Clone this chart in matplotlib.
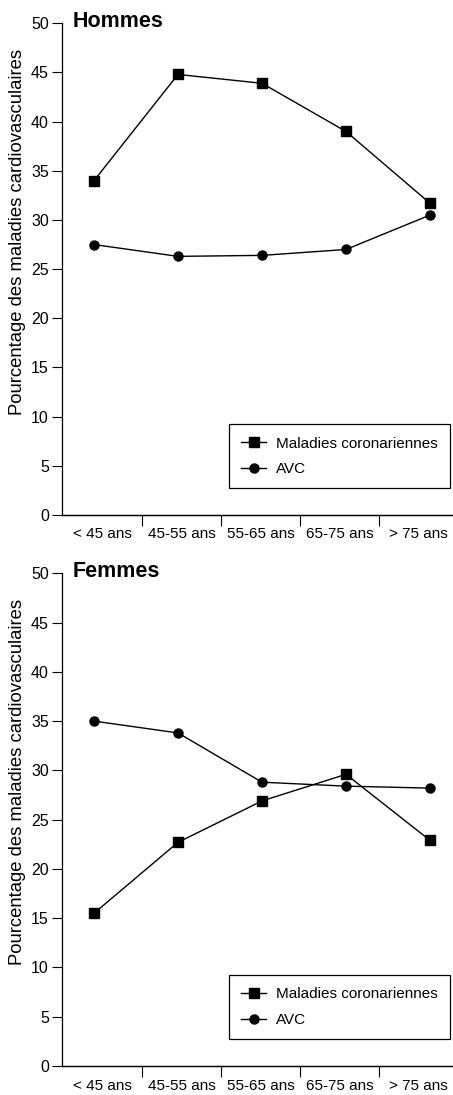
import matplotlib
matplotlib.use('Agg')
import matplotlib.pyplot as plt

# ---- data ----
categories = ['< 45 ans', '45-55 ans', '55-65 ans', '65-75 ans', '> 75 ans']
hommes_coronariennes = [34.0, 44.8, 43.9, 39.0, 31.7]
hommes_avc = [27.5, 26.3, 26.4, 27.0, 30.5]
femmes_coronariennes = [15.5, 22.7, 26.9, 29.6, 22.9]
femmes_avc = [35.0, 33.8, 28.8, 28.4, 28.2]
y_ticks = [0, 5, 10, 15, 20, 25, 30, 35, 40, 45, 50]
panel_titles = ['Hommes', 'Femmes']
series_labels = ['Maladies coronariennes', 'AVC']
y_label = 'Pourcentage des maladies cardiovasculaires'

plt.rcParams['font.family'] = ['Liberation Sans', 'DejaVu Sans']

W, H = 453, 1095
fig = plt.figure(figsize=(W / 100, H / 100), dpi=100)


def rect(l, t, r, b):
    return [l / W, 1 - b / H, (r - l) / W, (b - t) / H]


panels = [
    (panel_titles[0], hommes_coronariennes, hommes_avc, rect(62, 23.3, 453, 515)),
    (panel_titles[1], femmes_coronariennes, femmes_avc, rect(62, 573.3, 453, 1066)),
]

x = list(range(len(categories)))


def fwd(p):
    return (84 * p - 8.5) / 79


def inv(s):
    return (79 * s + 8.5) / 84


for title, cor, avc, r in panels:
    ax = fig.add_axes(r)
    ax.plot(x, cor, color='black', lw=1.0, marker='s', ms=7, label=series_labels[0],
            clip_on=False)
    ax.plot(x, avc, color='black', lw=1.0, marker='o', ms=6.5, label=series_labels[1],
            clip_on=False)
    ax.set_xlim(-0.381, 4.274)
    ax.set_ylim(0, 50)
    ax.set_yticks(y_ticks)
    ax.set_xticks([])
    for s in ('top', 'right'):
        ax.spines[s].set_visible(False)
    for s in ('left', 'bottom'):
        ax.spines[s].set_linewidth(0.9)
    ax.tick_params(axis='y', length=7.4, width=0.8, pad=2, labelsize=11.5)

    sec = ax.secondary_xaxis('bottom', functions=(fwd, inv))
    sec.set_xticks(x, categories)
    sec.set_xticks([0.5, 1.5, 2.5, 3.5], minor=True)
    sec.tick_params(which='major', length=0, pad=9, labelsize=11)
    sec.tick_params(which='minor', length=8, width=0.8, direction='out')
    sec.spines['bottom'].set_linewidth(0.9)

    ax.text(0.028, 0.992, title, transform=ax.transAxes, fontsize=15.5,
            fontweight='bold', ha='left', va='baseline')
    ax.text(-0.1136, 0.576, y_label, transform=ax.transAxes, rotation=90,
            ha='center', va='center', fontsize=13.3)

    leg = ax.legend(loc='upper left', bbox_to_anchor=(0.4263, 0.1843),
                    borderaxespad=0, frameon=True, fancybox=False,
                    edgecolor='black', framealpha=1, fontsize=11,
                    handlelength=1.65, handletextpad=0.62, borderpad=0.8,
                    labelspacing=0.75)
    leg.get_frame().set_linewidth(0.9)

fig.savefig('out.png', dpi=100)
